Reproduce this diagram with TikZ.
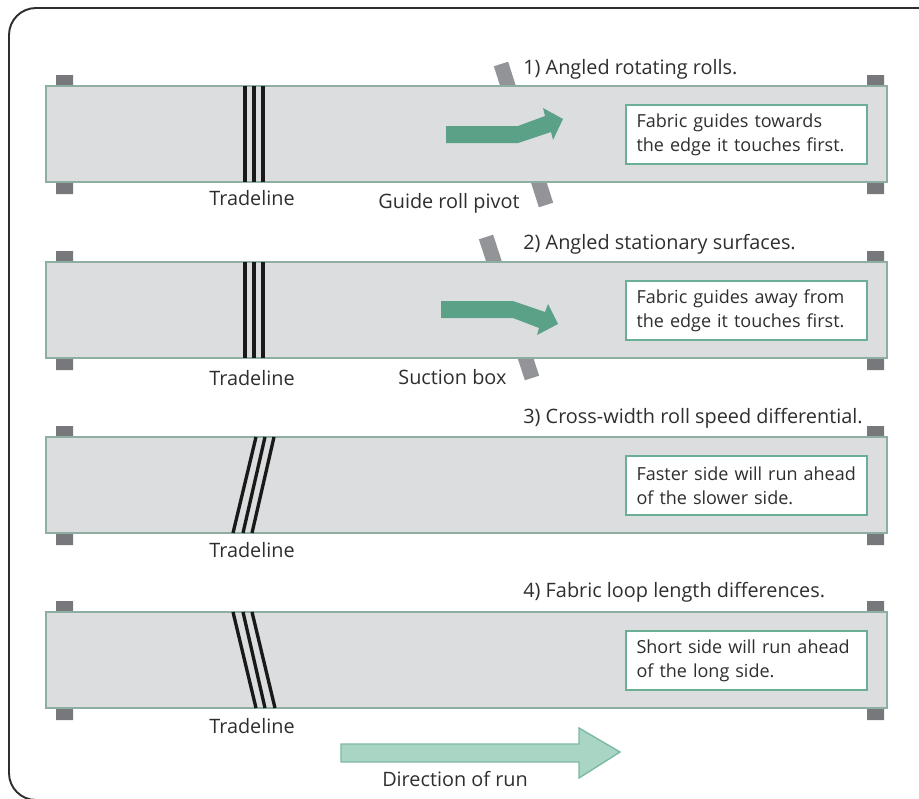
\documentclass[tikz,border=0pt]{standalone}
\usepackage{fontspec}
\setmainfont{Open Sans}
\definecolor{beltgray}{HTML}{DCDDDE}
\definecolor{beltedge}{HTML}{8FAEA2}
\definecolor{stubgray}{HTML}{77787B}
\definecolor{bargray}{HTML}{929497}
\definecolor{arrowgreen}{HTML}{5BA188}
\definecolor{boxgreen}{HTML}{6AAE96}
\definecolor{runfill}{HTML}{A8D5C4}
\definecolor{runedge}{HTML}{7DB9A3}
\definecolor{txtgray}{HTML}{2E2E2E}

\begin{document}
\begin{tikzpicture}[x=0.02cm, y=-0.02cm, font=\fontsize{11.3}{13.7}\selectfont, text=txtgray]
        % Define styles for belts, rolls and boxes
        \tikzset{
            belt/.style={draw=beltedge, fill=beltgray, line width=0.8pt},
            stub/.style={fill=stubgray},
            guidebar/.style={draw=bargray, line width=0.3cm},
            trade/.style={draw=black!90, line width=1.9pt},
            turn/.style={fill=arrowgreen},
            infobox/.style={draw=boxgreen, fill=white, line width=1.1pt, minimum width=4.82cm,
                minimum height=1.18cm, text width=4.40cm, inner xsep=0.21cm, align=left,
                font=\fontsize{10.25}{13.7}\selectfont},
            lbl/.style={inner sep=0pt, anchor=base west},
            midlbl/.style={inner sep=0pt, anchor=base}
        }

        \clip (0,0) rectangle (919,798);
        \draw[txtgray, line width=1.1pt, rounded corners=0.54cm] (9,8) rectangle (950,800);

        % Panel 1: angled rotating rolls
        \begin{scope}[shift={(0,0)}]
            \draw[guidebar] (501,64) -- (546,205);
            \fill[stub] (56,75) rectangle (73,90) (56,178) rectangle (73,194);
            \fill[stub] (867,75) rectangle (884,90) (867,178) rectangle (884,194);
            \draw[belt] (46,86) rectangle (887,182);
            \draw[trade] (245,86) -- (245,182) (254,86) -- (254,182) (263,86) -- (263,182);
            \fill[turn] (446,126) -- (518,126) -- (545,116) -- (543,108) -- (563,119) -- (553,140)
                -- (551,132) -- (518,143) -- (446,143) -- cycle;
            \node[infobox] (info1) at (746.5,134.5) {Fabric guides towards\\the edge it touches first.};
            \node[lbl] (step1) at (523,74) {1) Angled rotating rolls.};
            \node[midlbl] (trade1) at (252,205) {Tradeline};
            \node[lbl] (pivot) at (378,208) {Guide roll pivot};
        \end{scope}

        % Panel 2: angled stationary surfaces
        \begin{scope}[shift={(0,176)}]
            \draw[guidebar] (486,61) -- (532,202);
            \fill[stub] (56,75) rectangle (73,90) (56,178) rectangle (73,194);
            \fill[stub] (867,75) rectangle (884,90) (867,178) rectangle (884,194);
            \draw[belt] (46,86) rectangle (887,182);
            \draw[trade] (245,86) -- (245,182) (254,86) -- (254,182) (263,86) -- (263,182);
            \fill[turn] (441,125) -- (513,125) -- (545,136) -- (548,128) -- (558,148) -- (537,159)
                -- (539,152) -- (513,142) -- (441,142) -- cycle;
            \node[infobox] (info2) at (746.5,134.5) {Fabric guides away from\\the edge it touches first.};
            \node[lbl] (step2) at (523,73) {2) Angled stationary surfaces.};
            \node[midlbl] (trade2) at (252,209) {Tradeline};
            \node[lbl] (suction) at (398,208) {Suction box};
        \end{scope}

        % Panel 3: roll speed differential
        \begin{scope}[shift={(0,351)}]
            \fill[stub] (56,75) rectangle (73,90) (56,178) rectangle (73,194);
            \fill[stub] (867,75) rectangle (884,90) (867,178) rectangle (884,194);
            \draw[belt] (46,86) rectangle (887,182);
            \draw[trade] (256,86) -- (233,182) (265,86) -- (243,182) (274,86) -- (252,182);
            \node[infobox] (info3) at (746.5,134.5) {Faster side will run ahead\\of the slower side.};
            \node[lbl] (step3) at (523,72) {3) Cross-width roll speed differential.};
            \node[midlbl] (trade3) at (252,206) {Tradeline};
        \end{scope}

        % Panel 4: loop length differences
        \begin{scope}[shift={(0,526)}]
            \fill[stub] (56,75) rectangle (73,90) (56,178) rectangle (73,194);
            \fill[stub] (867,75) rectangle (884,90) (867,178) rectangle (884,194);
            \draw[belt] (46,86) rectangle (887,182);
            \draw[trade] (233,86) -- (256,182) (243,86) -- (265,182) (252,86) -- (275,182);
            \node[infobox] (info4) at (746.5,134.5) {Short side will run ahead\\of the long side.};
            \node[lbl] (step4) at (523,71) {4) Fabric loop length differences.};
            \node[midlbl] (trade4) at (252,207) {Tradeline};
        \end{scope}

        % Direction of run
        \draw[fill=runfill, draw=runedge, line width=0.8pt] (341,744) -- (579,744) -- (579,728) -- (620,752)
            -- (579,778) -- (579,762) -- (341,762) -- cycle;
        \node[midlbl] (run) at (455,786) {Direction of run};
    \end{tikzpicture}
\end{document}
